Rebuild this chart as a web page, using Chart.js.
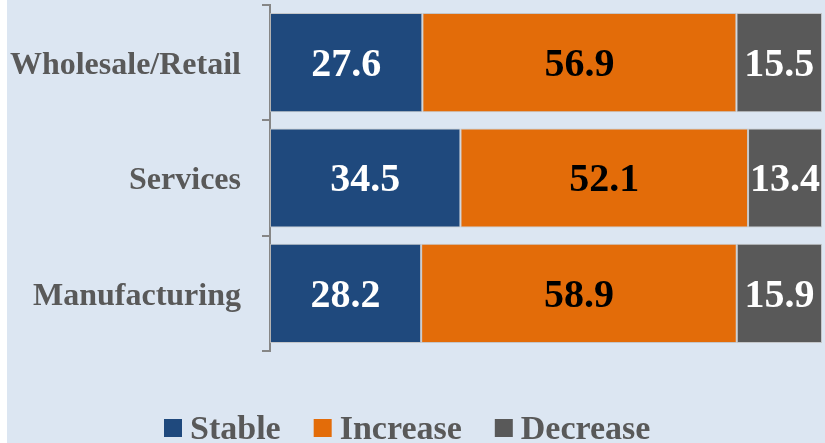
<!DOCTYPE html>
<html>
<head>
<meta charset="utf-8">
<script src="https://cdn.jsdelivr.net/npm/chart.js@4"></script>
<style>
  html, body { margin: 0; padding: 0; background: #fff; }
  #wrap { position: absolute; left: 7px; top: 0; width: 818px; height: 443px; background: #dce6f2; }
</style>
</head>
<body>
<div id="wrap"><canvas id="myChart"></canvas></div>
<script>
// values (percent of firms)
const categories = ['Wholesale/Retail', 'Services', 'Manufacturing'];
const stable = [27.6, 34.5, 28.2];
const increase = [56.9, 52.1, 58.9];
const decrease = [15.5, 13.4, 15.9];

// bars are drawn as 100% stacked, labels keep the original numbers
const totals = categories.map((c, i) => stable[i] + increase[i] + decrease[i]);
const share = arr => arr.map((v, i) => v / totals[i] * 100);

const font = 'Liberation Serif';

// numbers written in the middle of each bar piece
const barLabels = {
    id: 'barLabels',
    afterDatasetsDraw(chart) {
        const ctx = chart.ctx;
        ctx.save();
        ctx.font = 'bold 40px "' + font + '"';
        ctx.textAlign = 'center';
        ctx.textBaseline = 'middle';
        chart.data.datasets.forEach((ds, i) => {
            chart.getDatasetMeta(i).data.forEach((bar, j) => {
                ctx.fillStyle = ds.labelColor;
                ctx.fillText(ds.values[j].toFixed(1), (bar.x + bar.base) / 2, bar.y + 3);
            });
        });
        ctx.restore();
    }
};

// Excel-like legend: small square, tight gap, bold grey text
const bottomLegend = {
    id: 'bottomLegend',
    afterDraw(chart, args, opts) {
        const ctx = chart.ctx;
        ctx.save();
        ctx.font = 'bold 34px "' + font + '"';
        ctx.textBaseline = 'middle';
        let x = opts.x;
        chart.data.datasets.forEach(ds => {
            ctx.fillStyle = ds.backgroundColor;
            ctx.fillRect(x, opts.y - 9, 18, 18);
            x += 26;
            ctx.fillStyle = '#595959';
            ctx.fillText(ds.label, x, opts.y + 2);
            x += ctx.measureText(ds.label).width + 33;
        });
        ctx.restore();
    }
};

const ctx = document.getElementById('myChart').getContext('2d');
const myChart = new Chart(ctx, {
    type: 'bar',
    data: {
        labels: categories,
        datasets: [
            { label: 'Stable', data: share(stable), values: stable, backgroundColor: '#1F497D', labelColor: '#ffffff' },
            { label: 'Increase', data: share(increase), values: increase, backgroundColor: '#E36C09', labelColor: '#000000' },
            { label: 'Decrease', data: share(decrease), values: decrease, backgroundColor: '#595959', labelColor: '#ffffff' }
        ].map(d => Object.assign(d, {
            borderColor: 'rgba(190,190,190,0.8)',
            borderWidth: 1,
            borderSkipped: false,
            categoryPercentage: 1,
            barPercentage: 0.86
        }))
    },
    options: {
        indexAxis: 'y',
        responsive: true,
        maintainAspectRatio: false,
        animation: false,
        layout: { padding: { top: 5, right: 3, bottom: 92, left: 0 } },
        scales: {
            x: { stacked: true, min: 0, max: 100, display: false },
            y: {
                stacked: true,
                afterFit(scale) {
                    scale.width = 263;
                    // labels sit in the middle of the bands, no extra room needed
                    scale.paddingTop = 0;
                    scale.paddingBottom = 0;
                },
                grid: { offset: true, drawOnChartArea: false, drawTicks: true, tickLength: 8, color: '#868686', lineWidth: 2 },
                border: { color: '#868686', width: 2 },
                ticks: { padding: 21, labelOffset: 3, color: '#595959', font: { family: font, size: 32, weight: 'bold' } }
            }
        },
        plugins: {
            legend: { display: false },
            tooltip: { enabled: false },
            bottomLegend: { x: 157, y: 428 }
        }
    },
    plugins: [barLabels, bottomLegend]
});
</script>
</body>
</html>
